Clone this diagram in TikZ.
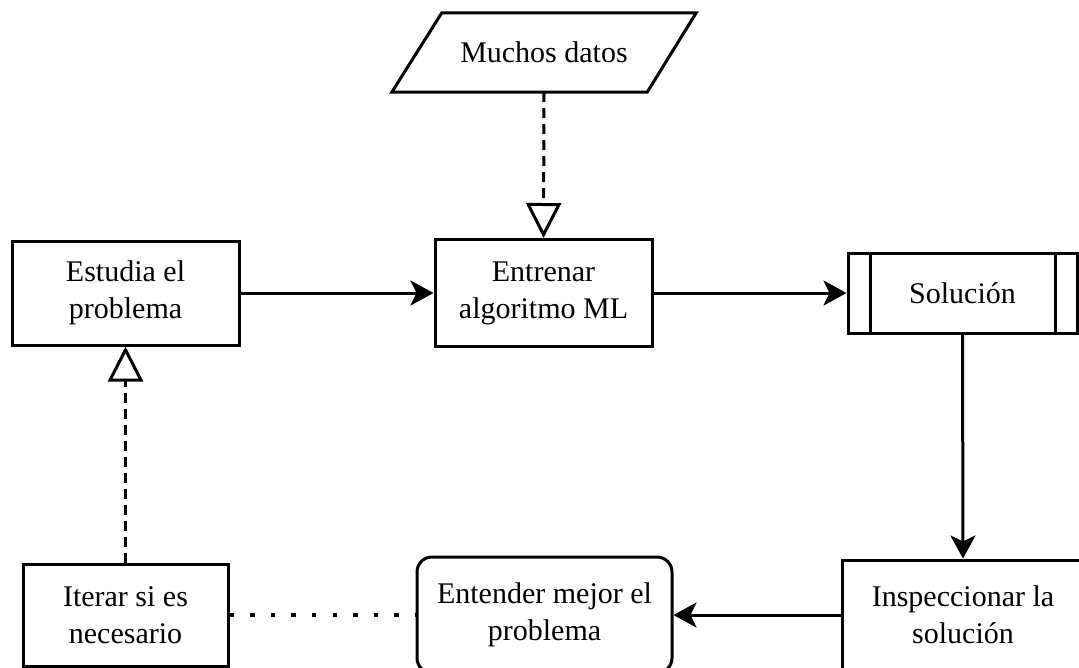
\documentclass[tikz,border=0pt]{standalone}
\usepackage{fontspec}
\setmainfont{Liberation Serif}
\usetikzlibrary{arrows.meta,calc}
\tikzset{
  box/.style={draw, line width=3pt, align=center, inner sep=0pt},
  plainbox/.style={box, rectangle},
  txt/.style={font=\fontsize{30}{37}\selectfont, align=center},
  flow/.style={line width=3pt, -{Stealth[length=23pt,width=25pt,inset=6pt]}},
  dataflow/.style={line width=3pt, dash pattern=on 10pt off 6pt, -{Triangle[open,length=35pt,width=35pt,fill=white]}},
  dotline/.style={line width=4.5pt, dash pattern=on 4.5pt off 16.1pt},
}
\begin{document}
\begin{tikzpicture}[x=1pt,y=-1pt]
\useasboundingbox (0,0) rectangle (1079,667);
\fill[white] (0,0) rectangle (1079,667);
% nodes
\node[txt, minimum width=304pt, minimum height=79pt, inner sep=0pt] (datos) at (544,52.5) {Muchos datos};
\draw[line width=3pt, line join=miter] ($(datos.north west)+(50,0)$) -- (datos.north east) -- ($(datos.south east)-(49,0)$) -- (datos.south west) -- cycle;
\node[plainbox, txt, minimum width=227pt, minimum height=104pt] (estudia) at (125.5,293) {Estudia el\\problema};
\node[plainbox, txt, minimum width=217pt, minimum height=107pt] (entrenar) at (543.5,293) {Entrenar\\algoritmo ML};
\node[plainbox, txt, minimum width=229pt, minimum height=80pt] (solucion) at (962.5,293) {Solución};
\draw[line width=3pt] ($(solucion.north west)+(24,0)$) -- ($(solucion.south west)+(24,0)$);
\draw[line width=3pt] ($(solucion.north east)-(23,0)$) -- ($(solucion.south east)-(23,0)$);
\node[plainbox, txt, minimum width=242pt, minimum height=110pt] (inspeccionar) at (963,615) {Inspeccionar la\\solución};
\node[box, txt, rounded corners=15pt, minimum width=255pt, minimum height=116pt] (entender) at (544.5,615) {Entender mejor el\\problema};
\node[plainbox, txt, minimum width=205pt, minimum height=102pt] (iterar) at (125.5,615) {Iterar si es\\necesario};
% connectors
\draw[dataflow] (datos.south) -- (entrenar.north);
\draw[flow] (estudia.east) -- (entrenar.west);
\draw[flow] (entrenar.east) -- (solucion.west);
\draw[flow] (solucion.south) -- (inspeccionar.north);
\draw[flow] (inspeccionar.west) -- (entender.east);
\draw[dotline] (iterar.east) -- (entender.west);
\draw[dataflow] (iterar.north) -- (estudia.south);
\end{tikzpicture}
\end{document}
